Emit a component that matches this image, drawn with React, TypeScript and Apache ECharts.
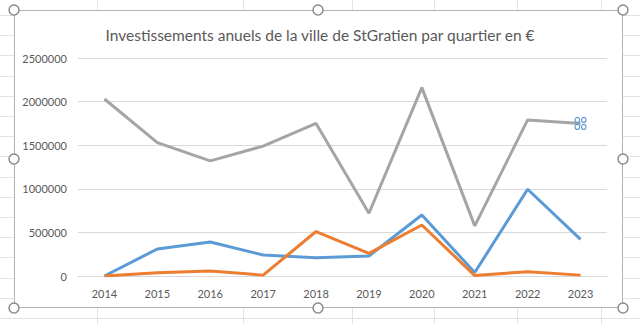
import React, { useEffect, useRef } from 'react';
import * as echarts from 'echarts';

const years = ['2014', '2015', '2016', '2017', '2018', '2019', '2020', '2021', '2022', '2023'];
const serieBleue = [0, 310000, 390000, 240000, 210000, 230000, 700000, 40000, 995000, 420000];
const serieOrange = [0, 38000, 57000, 10000, 510000, 260000, 585000, 5000, 50000, 10000];
const serieGrise = [2030000, 1530000, 1320000, 1490000, 1750000, 720000, 2160000, 575000, 1790000, 1750000];
const yMin = 0;
const yMax = 2500000;
const yStep = 500000;
const titre = 'Investissements anuels de la ville de StGratien par quartier en €';

const sheetRows = Array.from({ length: 17 }, (_, i) => 15 + i * 20.2);
const sheetCols = [97, 243, 352, 434, 517, 601];

const FONT = 'Lato';
const TXT = '#595959';

const selMarker =
  'path://M5.5,3A2.5,2.5 0 1 1 0.5,3A2.5,2.5 0 1 1 5.5,3Z' +
  'M12.5,3A2.5,2.5 0 1 1 7.5,3A2.5,2.5 0 1 1 12.5,3Z' +
  'M5.5,10A2.5,2.5 0 1 1 0.5,10A2.5,2.5 0 1 1 5.5,10Z' +
  'M12.5,10A2.5,2.5 0 1 1 7.5,10A2.5,2.5 0 1 1 12.5,10Z';

const handles: [number, number][] = [
  [14, 10], [318, 10], [623, 10],
  [14, 159], [623, 159],
  [14, 308], [318, 308], [623, 308],
];

export default function App() {
  const ref = useRef<HTMLDivElement>(null);

  useEffect(() => {
    const chart = echarts.init(ref.current!, undefined, { renderer: 'svg' });
    const grey = serieGrise.map((v, i) =>
      i === serieGrise.length - 1
        ? {
            value: v,
            symbol: selMarker,
            symbolSize: [11, 12],
            itemStyle: { color: '#ffffff', borderColor: '#5B9BD5', borderWidth: 1.2 },
          }
        : v
    );
    chart.setOption({
      animation: false,
      backgroundColor: 'transparent',
      title: {
        text: titre,
        left: 'center',
        top: 22,
        textStyle: { fontFamily: FONT, fontSize: 15.5, fontWeight: 'normal', color: TXT },
      },
      grid: { left: 78, right: 33, top: 58, bottom: 48, containLabel: false },
      xAxis: {
        type: 'category',
        data: years,
        boundaryGap: true,
        axisLine: { show: true, lineStyle: { color: '#D9D9D9', width: 1 } },
        axisTick: { show: false },
        axisLabel: { fontFamily: FONT, fontSize: 11, color: TXT, margin: 12 },
      },
      yAxis: {
        type: 'value',
        min: yMin,
        max: yMax,
        interval: yStep,
        axisLine: { show: false },
        axisTick: { show: false },
        splitLine: { lineStyle: { color: '#D9D9D9', width: 1 } },
        axisLabel: {
          fontFamily: FONT,
          fontSize: 11,
          color: TXT,
          margin: 11,
          formatter: (v: number) => String(v),
        },
      },
      series: [
        {
          name: 'Quartier 1',
          type: 'line',
          data: serieBleue,
          symbol: 'none',
          lineStyle: { color: '#5B9BD5', width: 3 },
          itemStyle: { color: '#5B9BD5' },
        },
        {
          name: 'Quartier 2',
          type: 'line',
          data: serieOrange,
          symbol: 'none',
          lineStyle: { color: '#ED7D31', width: 3 },
          itemStyle: { color: '#ED7D31' },
        },
        {
          name: 'Quartier 3',
          type: 'line',
          data: grey,
          symbol: 'none',
          showSymbol: true,
          lineStyle: { color: '#A5A5A5', width: 3 },
          itemStyle: { color: '#A5A5A5' },
          z: 3,
        },
      ],
      graphic: handles.map(([x, y]) => ({
        type: 'circle',
        shape: { cx: x, cy: y, r: 5 },
        style: { fill: '#ffffff', stroke: '#8C8C8C', lineWidth: 1.5 },
        z: 100,
      })),
    });
    return () => chart.dispose();
  }, []);

  return (
    <div style={{ position: 'fixed', left: 0, top: 0, width: 640, height: 324, background: '#ffffff', overflow: 'hidden' }}>
      {sheetRows.map((y, i) => (
        <div key={'r' + i} style={{ position: 'absolute', left: 0, top: y, width: 640, height: 1, background: '#E3E3E3' }} />
      ))}
      {sheetCols.map((x, i) => (
        <div key={'c' + i} style={{ position: 'absolute', left: x, top: 0, width: 1, height: 324, background: '#E3E3E3' }} />
      ))}
      <div
        style={{
          position: 'absolute',
          left: 14,
          top: 10,
          width: 609,
          height: 298,
          background: '#ffffff',
          boxSizing: 'border-box',
          border: '1.5px solid #B3B3B3',
        }}
      />
      <div ref={ref} style={{ position: 'absolute', left: 0, top: 0, width: 640, height: 324 }} />
    </div>
  );
}
